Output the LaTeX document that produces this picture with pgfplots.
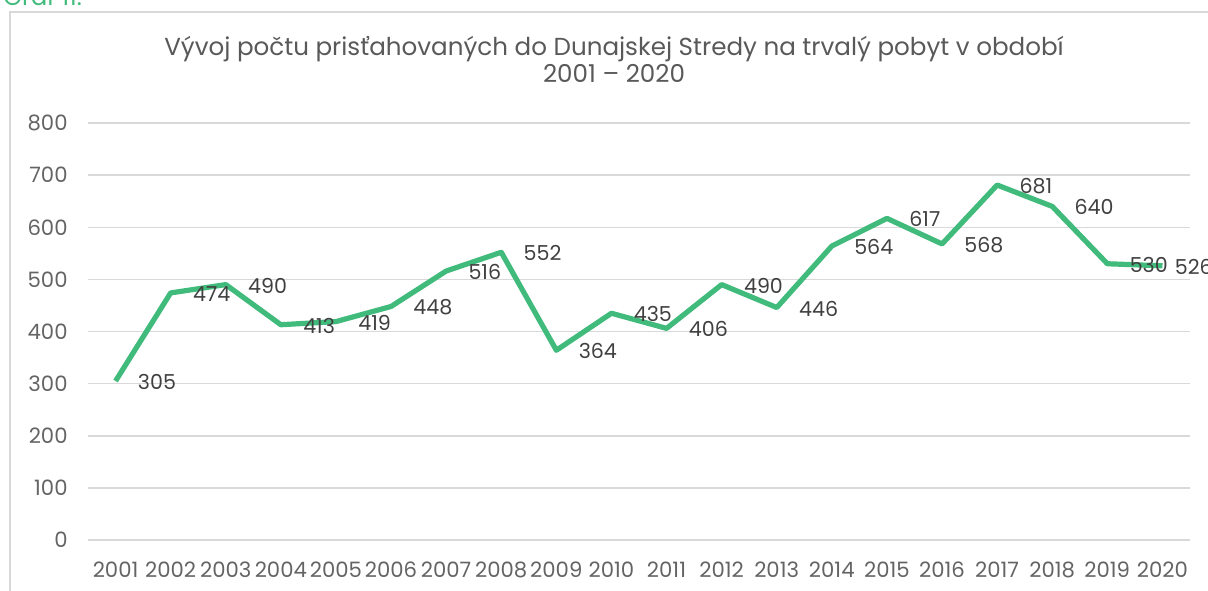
\documentclass[border=0pt]{standalone}
\usepackage{pgfplots}
\pgfplotsset{compat=1.18}
\usepackage{fontspec}
\setmainfont{Poppins}
\definecolor{linegreen}{RGB}{64,187,124}
\definecolor{titlegray}{RGB}{89,89,89}
\definecolor{tickgray}{RGB}{100,100,100}
\definecolor{labelgray}{RGB}{64,64,64}
\definecolor{gridgray}{RGB}{217,217,217}
\begin{document}
\begin{tikzpicture}
\useasboundingbox (0,0) rectangle (604pt,295pt);
\draw[gridgray, line width=0.8pt] (5pt,289pt) rectangle (640pt,-20pt);
\node[anchor=base west, inner sep=0pt, text=linegreen, font=\fontsize{12pt}{14pt}\selectfont] at (1.5pt,292pt) {Graf 11.};
\node[anchor=base, inner sep=0pt, text=titlegray, font=\fontsize{12.3pt}{14pt}\selectfont] at (307pt,267pt) {Vývoj počtu prisťahovaných do Dunajskej Stredy na trvalý pobyt v období};
\node[anchor=base, inner sep=0pt, text=titlegray, font=\fontsize{12.3pt}{14pt}\selectfont] at (307pt,253.5pt) {2001 – 2020};
\begin{axis}[
  at={(44pt,25pt)}, anchor=south west,
  width=551pt, height=208.5pt, scale only axis,
  xmin=2000.5, xmax=2020.5, ymin=0, ymax=800,
  xtick={2001,2002,...,2020}, ytick={0,100,...,800},
  /pgf/number format/assume math mode=true,
  /pgf/number format/1000 sep={},
  axis line style={draw=none},
  ymajorgrids, grid style={gridgray, line width=0.75pt},
  major tick length=0pt,
  tick label style={text=tickgray, font=\fontsize{10.6pt}{12pt}\selectfont, inner sep=0pt},
  yticklabel style={anchor=east, xshift=-10pt},
  xticklabel style={anchor=north, yshift=-10.5pt},
  clip=false,
  every node near coord/.append style={anchor=west, inner sep=0pt, yshift=-0.5pt, text=labelgray, font=\fontsize{10.3pt}{12pt}\selectfont, /pgf/number format/assume math mode=true},
]
\addplot[linegreen, line width=2.6pt, line join=round] coordinates {
(2001,305) (2002,474) (2003,490) (2004,413) (2005,419) (2006,448) (2007,516) (2008,552) (2009,364) (2010,435)
(2011,406) (2012,490) (2013,446) (2014,564) (2015,617) (2016,568) (2017,681) (2018,640) (2019,530) (2020,526)
};
\addplot[draw=none, nodes near coords, every node near coord/.append style={xshift=11pt}] coordinates {
(2001,305) (2002,474) (2003,490) (2004,413) (2005,419) (2006,448) (2007,516) (2008,552) (2009,364) (2010,435)
(2011,406) (2012,490) (2013,446) (2014,564) (2015,617) (2016,568) (2017,681) (2018,640) (2019,530)
};
\addplot[draw=none, nodes near coords, every node near coord/.append style={xshift=6pt}] coordinates {
(2020,526)
};
\end{axis}
\end{tikzpicture}
\end{document}
